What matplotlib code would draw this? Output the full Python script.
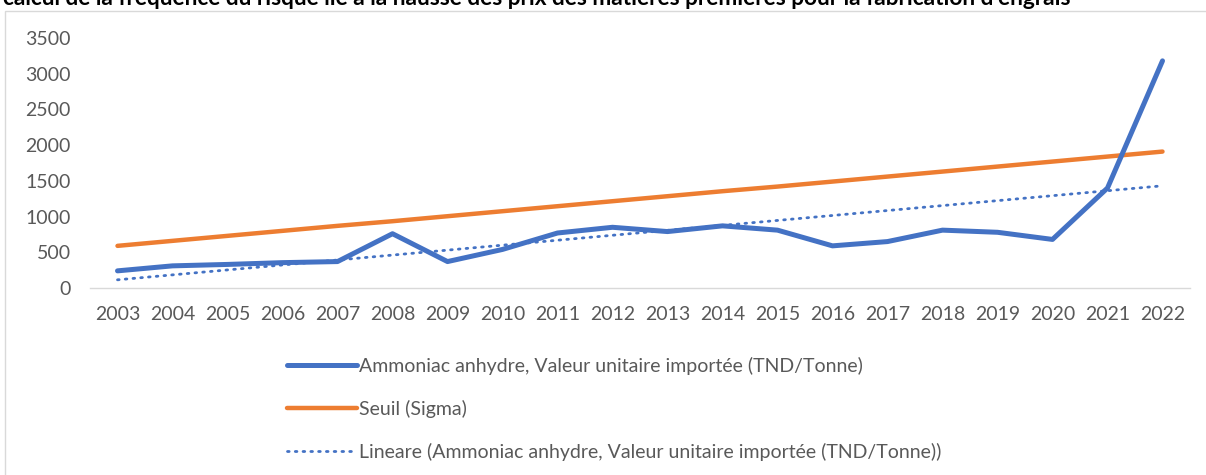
import matplotlib

matplotlib.use("Agg")
import matplotlib.pyplot as plt
import matplotlib.patches as mpatches
from matplotlib.lines import Line2D
import numpy as np

plt.rcParams["font.family"] = ["Lato", "DejaVu Sans"]

TITLE = ("calcul de la fréquence du risque lié à la hausse des prix des matières "
         "premières pour la fabrication d'engrais")

years = [2003, 2004, 2005, 2006, 2007, 2008, 2009, 2010, 2011, 2012,
         2013, 2014, 2015, 2016, 2017, 2018, 2019, 2020, 2021, 2022]
ammoniac = [240, 310, 330, 355, 370, 760, 370, 540, 770, 850,
            790, 870, 810, 590, 650, 810, 780, 680, 1400, 3180]
seuil = [590, 660, 730, 800, 870, 935, 1005, 1075, 1145, 1215,
         1285, 1355, 1420, 1490, 1560, 1630, 1700, 1770, 1840, 1910]
yticks = [0, 500, 1000, 1500, 2000, 2500, 3000, 3500]

label_amm = "Ammoniac anhydre, Valeur unitaire importée (TND/Tonne)"
label_seuil = "Seuil (Sigma)"
label_trend = "Lineare (Ammoniac anhydre, Valeur unitaire importée (TND/Tonne))"

BLUE = "#4472C4"
ORANGE = "#ED7D31"
GREY_TXT = "#595959"

W, H = 1206, 475
fig = plt.figure(figsize=(W / 100, H / 100), dpi=100)

# chart border (cut by the image edges)
fig.patches.append(mpatches.Rectangle((5 / W, -0.1), 1.2, 1.1 - 11 / H,
                                      transform=fig.transFigure, fill=False,
                                      edgecolor="#d9d9d9", linewidth=1.0))
fig.text(3 / W, 1 - 5 / H, TITLE, fontsize=16.3, fontweight="bold",
         ha="left", va="baseline", color="black")

ax = fig.add_axes([90 / W, (H - 288) / H, 1100 / W, 250 / H])
x = np.arange(len(years))

# linear trend of the ammoniac series
coef = np.polyfit(x, ammoniac, 1)
trend = np.polyval(coef, x)

ax.plot(x, ammoniac, color=BLUE, linewidth=3.6, solid_capstyle="round",
        solid_joinstyle="round", zorder=3)
ax.plot(x, seuil, color=ORANGE, linewidth=3.2, solid_capstyle="round", zorder=2)
ax.plot(x, trend, color=BLUE, linewidth=2.0, linestyle=(0, (0.6, 2.2)),
        dash_capstyle="round", zorder=2)

ax.set_xlim(-0.5, len(years) - 0.5)
ax.set_ylim(0, 3500)
ax.set_yticks(yticks)
ax.set_xticks(x)
ax.set_xticklabels([str(y) for y in years])
for s in ["top", "right", "left"]:
    ax.spines[s].set_visible(False)
ax.spines["bottom"].set_color("#d9d9d9")
ax.spines["bottom"].set_linewidth(1.0)
ax.tick_params(axis="both", length=0, labelsize=14, labelcolor=GREY_TXT)
ax.tick_params(axis="y", pad=14)
ax.tick_params(axis="x", pad=13)
ax.set_facecolor("none")

handles = [
    Line2D([], [], color=BLUE, linewidth=3.6, solid_capstyle="round"),
    Line2D([], [], color=ORANGE, linewidth=3.2, solid_capstyle="round"),
    Line2D([], [], color=BLUE, linewidth=2.0, linestyle=(0, (0.6, 2.2)),
           dash_capstyle="round"),
]
leg = fig.legend(handles, [label_amm, label_seuil, label_trend],
                 loc="upper left", bbox_to_anchor=(277 / W, 1 - 347 / H),
                 frameon=False, fontsize=14, handlelength=3.6, handletextpad=0.1,
                 labelspacing=1.28, borderpad=0)
for t in leg.get_texts():
    t.set_color(GREY_TXT)

fig.savefig("out.png", dpi=100)
